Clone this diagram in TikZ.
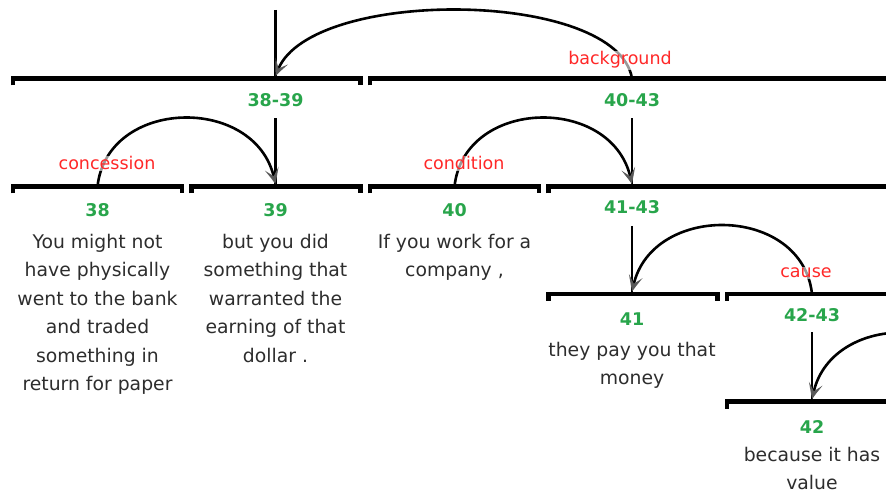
\documentclass[tikz,border=0pt]{standalone}
\usepackage{fontspec}
\setmainfont{DejaVu Sans}
\usetikzlibrary{arrows.meta,bending}

\definecolor{spangreen}{RGB}{40,165,75}
\definecolor{relred}{RGB}{255,40,40}
\definecolor{edugray}{RGB}{45,45,45}

\tikzset{
  spanbar/.style={line width=4.8pt, line join=miter},
  nucline/.style={line width=2.6pt},
  relarc/.style={line width=2.6pt, shorten >=2.5pt,
    arrows={-Stealth[length=16pt, width=14pt, inset=8pt, gray!70!black, bend]}},
  spanlbl/.style={text=spangreen, font=\bfseries\fontsize{17.5}{20}\selectfont,
    inner sep=0pt, anchor=base},
  rellbl/.style={text=relred, font=\fontsize{17.5}{20}\selectfont, inner sep=1pt,
    anchor=base, fill=white, fill opacity=0.6, text opacity=1},
  edutxt/.style={text=edugray, font=\fontsize{18.8}{28.5}\selectfont,
    align=center, inner sep=0pt, anchor=north},
}

\begin{document}
\begin{tikzpicture}[x=1pt, y=-1pt]
                \useasboundingbox (0,0) rectangle (886,494);
                \clip (0,0) rectangle (886,494);

                % Bar midpoints
                \coordinate (top) at (275.5,10);
                \coordinate (b3839) at (275.5,78.5);
                \coordinate (b4043) at (632,78.5);
                \coordinate (b38) at (97.5,186.5);
                \coordinate (b39) at (275.5,186.5);
                \coordinate (b40) at (454.5,186.5);
                \coordinate (b4143) at (632,186.5);
                \coordinate (b41) at (632,294);
                \coordinate (b4243) at (812,294);
                \coordinate (b42) at (812,401.5);
                \coordinate (b43) at (990,401.5);

                % Span bars
                \draw[spanbar] (13,85.5) |- (360.5,78.5) -- (360.5,85.5);
                \draw[spanbar] (370,85.5) |- (1074.5,78.5) -- (1074.5,85.5);
                \draw[spanbar] (13,193.5) |- (182,186.5) -- (182,193.5);
                \draw[spanbar] (191.5,193.5) |- (360.5,186.5) -- (360.5,193.5);
                \draw[spanbar] (370,193.5) |- (539,186.5) -- (539,193.5);
                \draw[spanbar] (548.5,193.5) |- (1074.5,186.5) -- (1074.5,193.5);
                \draw[spanbar] (548.5,301) |- (717.5,294) -- (717.5,301);
                \draw[spanbar] (727,301) |- (1074.5,294) -- (1074.5,301);
                \draw[spanbar] (727,408.5) |- (896,401.5) -- (896,408.5);

                % Span labels
                \node[spanlbl] (l3839) at (275.5,106.5) {38-39};
                \node[spanlbl] (l4043) at (632,106.5) {40-43};
                \node[spanlbl] (l38) at (97.5,217) {38};
                \node[spanlbl] (l39) at (275.5,217) {39};
                \node[spanlbl] (l40) at (454.5,217) {40};
                \node[spanlbl] (l4143) at (632,213.5) {41-43};
                \node[spanlbl] (l41) at (632,325) {41};
                \node[spanlbl] (l4243) at (812,321) {42-43};
                \node[spanlbl] (l42) at (812,433) {42};

                % Nucleus lines
                \draw[nucline] (top) -- (b3839);
                \draw[nucline, shorten <=11.5pt] (l3839.south) -- (b39);
                \draw[nucline, shorten <=11.5pt] (l4043.south) -- (b4143);
                \draw[nucline, shorten <=12pt] (l4143.south) -- (b41);
                \draw[nucline, shorten <=11pt] (l4243.south) -- (b42);

                % Relation arcs
                \draw[relarc] (b4043) .. controls +(-15,-92) and +(15,-92) .. (b3839);
                \draw[relarc] (b38) .. controls +(10,-92) and +(-10,-92) .. (b39);
                \draw[relarc] (b40) .. controls +(10,-92) and +(-10,-92) .. (b4143);
                \draw[relarc] (b4243) .. controls +(-10,-92) and +(10,-92) .. (b41);
                \draw[relarc] (b43) .. controls +(-10,-92) and +(10,-92) .. (b42);

                % Relation names
                \node[rellbl] (rbg) at (620,65) {background};
                \node[rellbl] (rcon) at (107,170) {concession};
                \node[rellbl] (rcond) at (464,170) {condition};
                \node[rellbl] (rcause) at (806,278) {cause};

                % Segment texts
                \node[edutxt] (t38) at (97.5,234) {You might not\\have physically\\went to the bank\\and traded\\something in\\return for paper};
                \node[edutxt] (t39) at (275.5,234) {but you did\\something that\\warranted the\\earning of that\\dollar .};
                \node[edutxt] (t40) at (454.5,234) {If you work for a\\company ,};
                \node[edutxt] (t41) at (632,342) {they pay you that\\money};
                \node[edutxt] (t42) at (812,447) {because it has\\value};
            \end{tikzpicture}
\end{document}
